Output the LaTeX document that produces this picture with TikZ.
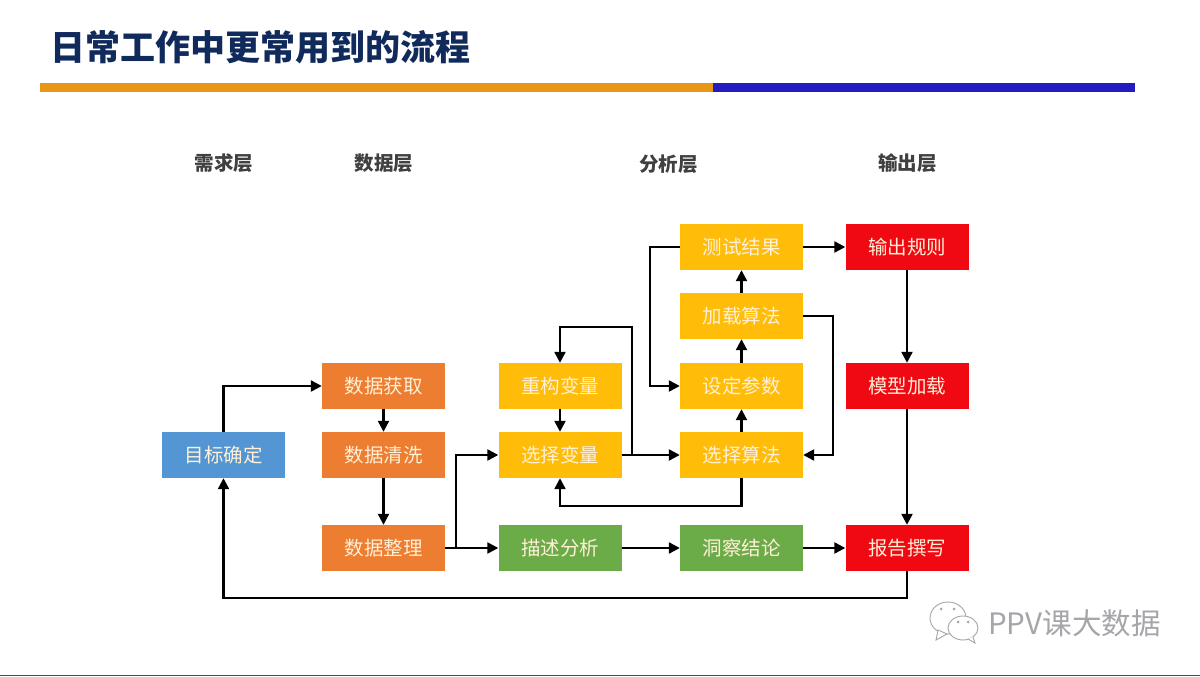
\documentclass[tikz,border=0pt]{standalone}
\usepackage{fontspec}
\setmainfont{Noto Sans CJK SC}
\usetikzlibrary{arrows.meta,positioning,calc}
\definecolor{titleNavy}{RGB}{16, 42, 92}
\definecolor{headGray}{RGB}{64, 64, 64}
\definecolor{ruleOrange}{RGB}{232, 150, 24}
\definecolor{ruleBlue}{RGB}{36, 28, 190}
\definecolor{goalBlue}{RGB}{84, 150, 212}
\definecolor{dataOrange}{RGB}{237, 125, 49}
\definecolor{flowYellow}{RGB}{255, 188, 8}
\definecolor{flowGreen}{RGB}{108, 172, 72}
\definecolor{outRed}{RGB}{240, 8, 18}
\definecolor{boxText}{RGB}{255, 240, 215}
\definecolor{markGray}{RGB}{165, 165, 170}
\tikzset{
    flowbox/.style={minimum width=123pt, minimum height=46pt, inner sep=0pt, text=boxText, font=\fontsize{19.5pt}{22pt}\selectfont},
    headlabel/.style={text=headGray, font=\fontsize{19.5pt}{22pt}\selectfont\bfseries},
    link/.style={draw=black, line width=2.3pt, -{Triangle[length=11pt,width=11pt]}},
    bubble/.style={draw=markGray, line width=0.9pt, fill=white}
}
\begin{document}
\begin{tikzpicture}[x=1pt,y=-1pt]
    \useasboundingbox (0,0) rectangle (1200,677);
    \fill[white] (0,0) rectangle (1200,677);

    \node[anchor=west, inner sep=0pt, text=titleNavy, font=\fontsize{35pt}{38pt}\selectfont\bfseries] (title) at (50,47) {日常工作中更常用到的流程};
    \fill[ruleOrange] (40,83) rectangle (713,92);
    \fill[ruleBlue] (713,83) rectangle (1135,92);
    \draw[line width=1.4pt, draw=black!70] (0,675.5) -- (1200,675.5);

    \node[headlabel] (headNeed) at (224,163.5) {需求层};
    \node[headlabel] (headData) at (384,163.5) {数据层};
    \node[headlabel] (headAnalysis) at (668.5,164.5) {分析层};
    \node[headlabel] (headOutput) at (907.5,163.5) {输出层};

    \node[flowbox, fill=goalBlue] (goal) at (223.5,455) {目标确定};

    \node[flowbox, fill=dataOrange] (fetch) at (383.5,386) {数据获取};
    \node[flowbox, fill=dataOrange] (clean) at (383.5,455) {数据清洗};
    \node[flowbox, fill=dataOrange] (tidy) at (383.5,548) {数据整理};

    \node[flowbox, fill=flowYellow] (rebuild) at (560,386) {重构变量};
    \node[flowbox, fill=flowYellow] (pickVar) at (560,455) {选择变量};
    \node[flowbox, fill=flowGreen] (describe) at (560,548) {描述分析};

    \node[flowbox, fill=flowYellow] (testRes) at (741.5,247) {测试结果};
    \node[flowbox, fill=flowYellow] (loadAlg) at (741.5,316) {加载算法};
    \node[flowbox, fill=flowYellow] (setParam) at (741.5,386) {设定参数};
    \node[flowbox, fill=flowYellow] (pickAlg) at (741.5,455) {选择算法};
    \node[flowbox, fill=flowGreen] (insight) at (741.5,548) {洞察结论};

    \node[flowbox, fill=outRed] (rules) at (907,247) {输出规则};
    \node[flowbox, fill=outRed] (model) at (907,386) {模型加载};
    \node[flowbox, fill=outRed] (report) at (907,548) {报告撰写};

    \coordinate (tidySplit) at (456,548);
    \coordinate (varSplit) at (632,455);
    \coordinate (varTop) at (632,327);
    \coordinate (algBelow) at (741.5,506);
    \coordinate (testLeft) at (650,247);
    \coordinate (loadRight) at (833,316);
    \coordinate (reportBelow) at (907,598);

    \draw[link] (goal.north) |- (fetch.west);
    \draw[link] (fetch) -- (clean);
    \draw[link] (clean) -- (tidy);
    \draw[link] (tidy) -- (describe);
    \draw[link] (tidySplit) |- (pickVar.west);
    \draw[link] (rebuild) -- (pickVar);
    \draw[link] (pickVar) -- (pickAlg);
    \draw[link] (varSplit) -- (varTop) -| (rebuild.north);
    \draw[link] (pickAlg.south) -- (algBelow) -| (pickVar.south);
    \draw[link] (pickAlg) -- (setParam);
    \draw[link] (setParam) -- (loadAlg);
    \draw[link] (loadAlg) -- (testRes);
    \draw[link] (testRes.west) -- (testLeft) |- (setParam.west);
    \draw[link] (loadAlg.east) -- (loadRight) |- (pickAlg.east);
    \draw[link] (testRes) -- (rules);
    \draw[link] (rules) -- (model);
    \draw[link] (model) -- (report);
    \draw[link] (describe) -- (insight);
    \draw[link] (insight) -- (report);
    \draw[link] (report.south) -- (reportBelow) -| (goal.south);

    % watermark
    \draw[bubble] (948,618) ellipse[x radius=18pt, y radius=16pt];
    \draw[bubble] (938,630) -- (936,640) -- (947,634) -- cycle;
    \draw[bubble] (963,628) ellipse[x radius=15pt, y radius=12pt];
    \draw[bubble] (968,639) -- (975,643) -- (973,637);
    \foreach \dotx/\doty in {941/609, 954/609, 958/622, 968/622}
        \fill[markGray] (\dotx,\doty) circle (1.5pt);
    \node[anchor=west, inner sep=0pt, text=markGray, font=\fontsize{29.5pt}{32pt}\selectfont] (mark) at (988,623) {PPV课大数据};
\end{tikzpicture}
\end{document}
